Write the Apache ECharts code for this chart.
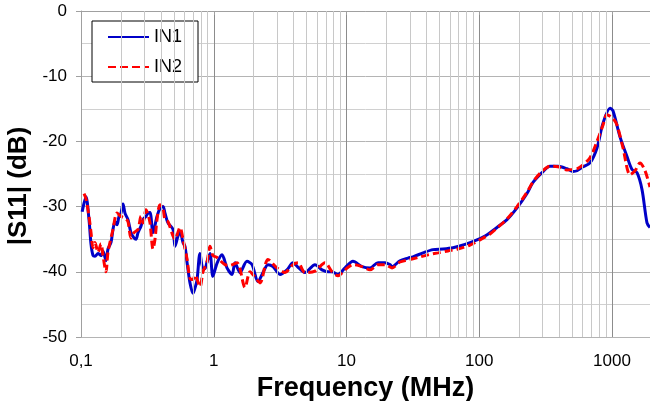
<!DOCTYPE html>
<html><head><meta charset="utf-8">
<script src="https://cdn.jsdelivr.net/npm/echarts@6/dist/echarts.min.js"></script>
<style>html,body{margin:0;padding:0;background:#fff}#c{width:650px;height:401px}</style>
</head><body><div id="c"></div>
<script>
// Frequency (MHz) and |S11| (dB)
const freqIN1 = [0.102,0.109,0.1149,0.119,0.1232,0.1275,0.1343,0.1415,0.1464,0.1543,0.1597,0.1683,0.1742,0.1804,0.1867,0.1933,0.2001,0.2072,0.2145,0.2259,0.238,0.2507,0.2596,0.2688,0.2831,0.2931,0.3087,0.3196,0.331,0.3486,0.3737,0.3936,0.4146,0.4293,0.4521,0.4932,0.5106,0.5378,0.5568,0.5865,0.6072,0.6287,0.6623,0.6976,0.7223,0.7478,0.7877,0.8297,0.8591,0.8896,0.937,0.985,1.058,1.154,1.258,1.373,1.446,1.577,1.78,1.942,2.154,2.35,2.562,2.795,3.156,3.563,3.954,4.312,4.867,5.79,6.538,7.255,7.777,8.63,9.743,11.19,13.09,15.03,17.28,19.5,21.27,22.02,25.29,29.06,31.7,37.71,44.84,53.33,63.43,78.11,96.18,110.5,120.5,136,161.8,192.5,228.9,254,297,341.2,391.9,458.1,508.3,544.9,604.7,682.8,770.9,855.5,965.8,1017,1149,1297,1415,1543,1683,1835,1933];
const dbIN1 = [-30.8,-28.5,-32,-35.8,-37.5,-37.6,-37.2,-37.5,-36.8,-38.3,-36.5,-35.5,-33.5,-32.3,-32.8,-31.5,-31,-29.6,-31,-32,-34,-34.8,-35,-34,-33,-32,-31.5,-31,-30.9,-34,-31.5,-30.3,-30,-31,-32.5,-33.5,-36.1,-34.5,-33.8,-35.5,-36.1,-38.5,-41.7,-43.3,-42.5,-41.3,-37.2,-39.5,-39.5,-38.5,-37.2,-40.7,-38.7,-37.4,-39.4,-40.4,-38.6,-40.1,-38.4,-38.9,-41.5,-40.1,-38.9,-39.2,-40.4,-39.7,-38.6,-39.3,-40.1,-38.9,-39.7,-40,-40,-40.4,-39.4,-38.4,-39.2,-39.4,-38.6,-38.6,-38.9,-39.2,-38.3,-37.9,-37.7,-37.1,-36.6,-36.5,-36.3,-35.8,-35.1,-34.5,-34,-33.2,-32,-30.2,-28,-26.3,-24.8,-23.8,-23.8,-24.2,-24.6,-24.5,-23.9,-23.3,-21,-17.2,-14.9,-15.3,-19.3,-22.3,-24.3,-24.8,-27.4,-32.5,-33.2];
const freqIN2 = [0.1054,0.109,0.1149,0.119,0.1232,0.1275,0.1343,0.1415,0.1464,0.1543,0.1597,0.1742,0.1867,0.2001,0.2145,0.2259,0.238,0.2507,0.2688,0.2831,0.2931,0.3087,0.3196,0.331,0.3486,0.3609,0.3737,0.3936,0.4146,0.4293,0.4521,0.4932,0.5106,0.5568,0.5865,0.6287,0.6623,0.6976,0.7223,0.7877,0.8297,0.8896,0.937,0.985,1.058,1.215,1.326,1.497,1.72,1.876,2.045,2.231,2.562,2.995,3.442,3.954,4.312,4.867,5.79,6.887,7.777,8.63,9.743,11.19,13.09,15.03,17.28,19.5,22.02,25.29,29.06,34.57,41.11,48.9,58.16,69.17,85.19,101.3,120.5,136,161.8,192.5,228.9,254,297,341.2,391.9,458.1,508.3,544.9,604.7,682.8,770.9,855.5,916.9,1017,1091,1210,1367,1490,1625,1773,1933];
const dbIN2 = [-28,-28.8,-31.5,-34,-36.3,-35.5,-37,-35.7,-37.5,-40,-37,-33.5,-31,-31.5,-31.8,-32.3,-34.8,-34,-33.5,-31.5,-32.5,-30.5,-31.2,-32.5,-36.5,-35,-32,-29.7,-30.3,-32,-32.3,-34.5,-35,-33.2,-35,-38,-41,-41.2,-40.5,-42.3,-40,-38.5,-36.1,-37.5,-37.8,-38.9,-39,-38.6,-42.4,-40,-40.8,-41.7,-38.1,-39.4,-40.1,-38.9,-38.6,-40.1,-39.9,-38.6,-40,-40.6,-39.7,-38.9,-39.2,-39.7,-38.9,-38.9,-39.4,-38.5,-38.2,-37.8,-37.4,-37.1,-36.8,-36.5,-35.9,-35.1,-34.2,-33.3,-31.9,-30,-27.8,-26.2,-24.6,-23.8,-23.9,-24.4,-24.3,-24.2,-23.6,-22.5,-20,-17.5,-15.9,-16.5,-17.5,-21,-25.1,-24.5,-23.3,-24.5,-27];
const seriesNames = ['IN1','IN2'];
const xMin = 0.1, xMax = 1933;
const xTickLabels = {'-1':'0,1','0':'1','1':'10','2':'100','3':'1000'};

const minorFreqs = [];
[0.1,1,10,100].forEach(d => { for (let k = 2; k <= 9; k++) minorFreqs.push(+(d*k).toPrecision(3)); });

const FONT = 'Liberation Sans, Arial, sans-serif';
const chart = echarts.init(document.getElementById('c'), null, {renderer:'canvas'});
chart.setOption({
  animation: false,
  backgroundColor: '#fff',
  grid: {left: 81, right: 0, top: 11, bottom: 64, containLabel: false, outerBoundsMode: 'none'},
  legend: {
    data: seriesNames, orient: 'vertical', left: 92, top: 21,
    padding: [7, 16, 6, 15], itemGap: 12, itemWidth: 41, itemHeight: 14,
    borderColor: '#000', borderWidth: 1, backgroundColor: '#fff',
    itemStyle: {opacity: 0},
    textStyle: {fontFamily: FONT, fontSize: 18, color: '#000'}
  },
  xAxis: {
    type: 'log', logBase: 10, min: xMin, max: xMax,
    name: 'Frequency (MHz)', nameLocation: 'middle', nameGap: 34,
    nameTextStyle: {fontFamily: FONT, fontSize: 27, fontWeight: 'bold', color: '#000'},
    axisLine: {show: true, lineStyle: {color: '#a0a0a0', width: 1}},
    axisTick: {show: true, length: 4, lineStyle: {color: '#a0a0a0'}},
    axisLabel: {fontFamily: FONT, fontSize: 17, color: '#000', margin: 16, showMaxLabel: false,
      formatter: v => { const l = Math.log10(v); const r = Math.round(l); return Math.abs(l - r) < 1e-6 ? (xTickLabels[String(r)] || '') : ''; }},
    splitLine: {show: true, lineStyle: {color: '#8c8c8c', width: 1}}
  },
  yAxis: {
    type: 'value', min: -50, max: 0, interval: 10,
    name: '|S11| (dB)', nameLocation: 'middle', nameGap: 47,
    nameTextStyle: {fontFamily: FONT, fontSize: 26, fontWeight: 'bold', color: '#000', padding: [0, 24, 0, 0]},
    axisLine: {show: true, lineStyle: {color: '#a0a0a0', width: 1}},
    axisTick: {show: true, length: 5, lineStyle: {color: '#a0a0a0'}},
    axisLabel: {fontFamily: FONT, fontSize: 17, color: '#000', margin: 14},
    splitLine: {show: true, lineStyle: {color: '#b4b4b4', width: 1}},
    minorTick: {show: false, splitNumber: 2},
    minorSplitLine: {show: true, lineStyle: {color: '#d0d0d0', width: 1}}
  },
  series: [
    {
      name: 'minorGrid', type: 'line', data: [], silent: true, z: 1,
      markLine: {
        silent: true, symbol: 'none', label: {show: false}, animation: false,
        lineStyle: {color: '#c8c8c8', width: 1, type: 'solid'},
        data: minorFreqs.map(f => ({xAxis: f}))
      }
    },
    {
      name: seriesNames[0], type: 'line', z: 3, showSymbol: false, symbol: 'none', smooth: 0.3,
      data: freqIN1.map((f, i) => [f, dbIN1[i]]),
      lineStyle: {color: '#0000c8', width: 3}, itemStyle: {color: '#0000c8'}
    },
    {
      name: seriesNames[1], type: 'line', z: 4, showSymbol: false, symbol: 'none', smooth: 0.3,
      data: freqIN2.map((f, i) => [f, dbIN2[i]]),
      lineStyle: {color: '#ff0000', width: 3, type: [8, 4]}, itemStyle: {color: '#ff0000'}
    }
  ]
});
</script></body></html>
